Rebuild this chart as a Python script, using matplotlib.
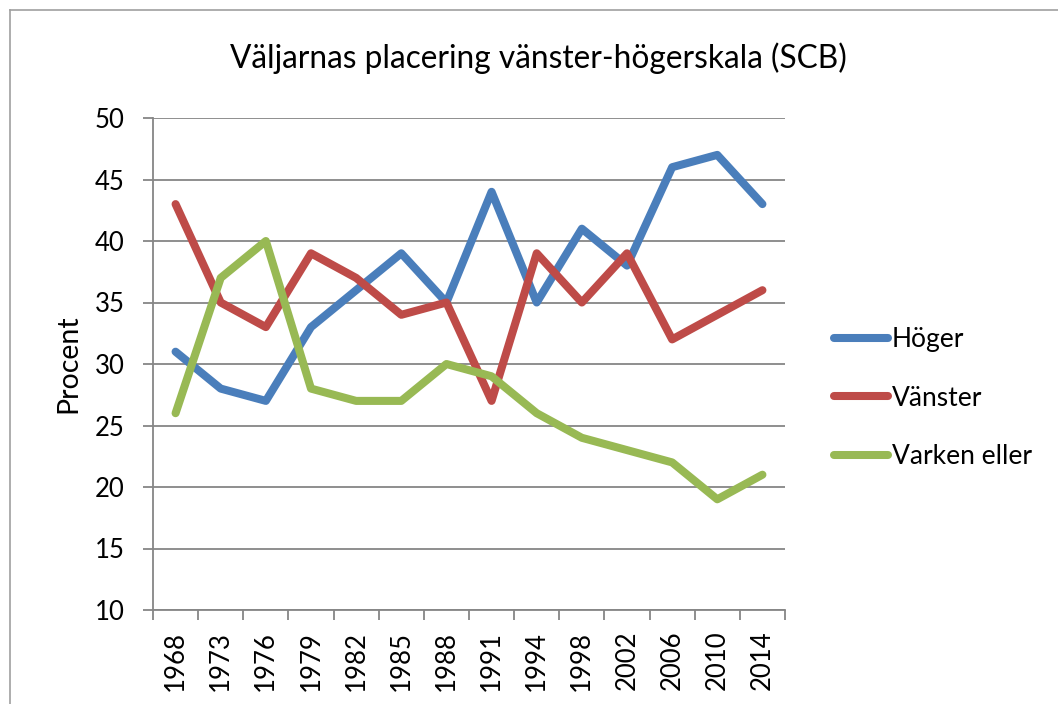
import matplotlib
matplotlib.use('Agg')
from matplotlib import pyplot as plt
from matplotlib.lines import Line2D

years=['1968','1973','1976','1979','1982','1985','1988','1991','1994','1998','2002','2006','2010','2014']
hoger=[31,28,27,33,36,39,35,44,35,41,38,46,47,43]
vanster=[43,35,33,39,37,34,35,27,39,35,39,32,34,36]
varken=[26,37,40,28,27,27,30,29,26,24,23,22,19,21]

names=['Höger','Vänster','Varken eller']
colors=['#4A7EBB','#BE4B48','#98B954']

plt.rcParams['font.family']=['Lato','DejaVu Sans']

fig=plt.figure(figsize=(10.58,7.04),dpi=100)
ax=fig.add_axes([153/1058,1-610/704,632/1058,492/704])

x=range(len(years))
for serie,name,c in zip([hoger,vanster,varken],names,colors):
	ax.plot(x,serie,color=c,lw=5.8,solid_capstyle='round',solid_joinstyle='round',label=name,zorder=3)

ax.set_xlim(-0.5,len(years)-0.5)
ax.set_ylim(10,50)
ax.set_yticks(range(10,51,5))
ax.set_xticks(x)
ax.set_xticklabels(years,rotation=90,fontsize=18.5)
ax.set_xticks([i-0.5 for i in range(len(years)+1)],minor=True)
ax.tick_params(axis='x',which='major',length=0,pad=15)
ax.tick_params(axis='x',which='minor',length=7.2,color='#868686',width=1.3)
ax.tick_params(axis='y',length=7.2,color='#868686',width=1.3,labelsize=18.5,pad=13)
ax.grid(axis='y',color='#868686',lw=1.3)
for s in ['top','right']:
	ax.spines[s].set_visible(False)
ax.spines['left'].set_color('#868686')
ax.spines['bottom'].set_color('#868686')
ax.spines['left'].set_linewidth(1.3)
ax.spines['bottom'].set_linewidth(1.3)
ax.set_ylabel('Procent',fontsize=20.5,labelpad=10)

fig.text(538/1058,1-58/704,'Väljarnas placering vänster-högerskala (SCB)',ha='center',va='center',fontsize=22.8)

# legend on the right side
hand=[Line2D([0],[0],color=c,lw=5.8,solid_capstyle='round') for c in colors]
fig.legend(hand,names,loc='center left',bbox_to_anchor=(810/1058,1-398/704),frameon=False,
	fontsize=19,handlelength=2.05,handletextpad=0.15,labelspacing=1.26)

# frame lines (top and left)
fig.add_artist(Line2D([10/1058,1],[1-10/704,1-10/704],color='#a0a0a0',lw=1.2))
fig.add_artist(Line2D([10/1058,10/1058],[0,1-10/704],color='#a0a0a0',lw=1.2))

plt.savefig('out.png',dpi=100)
